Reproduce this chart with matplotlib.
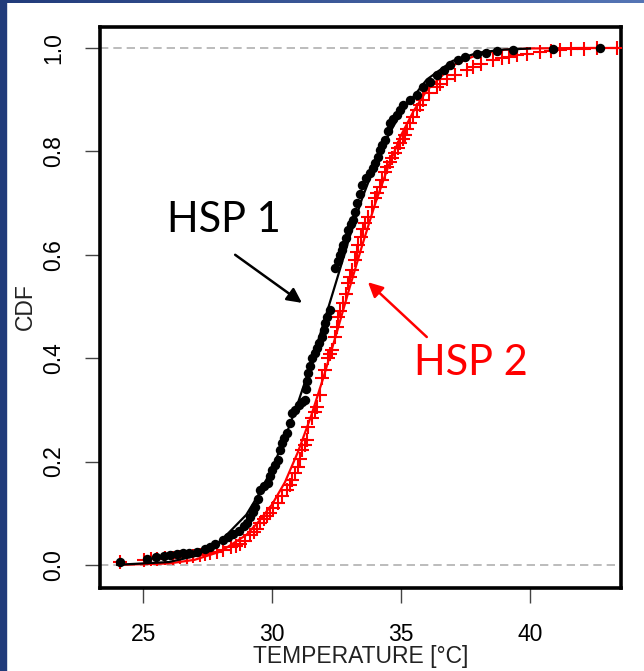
import numpy as np
import matplotlib
matplotlib.use("Agg")
import matplotlib.pyplot as plt
from matplotlib.patches import Rectangle

# HSP 1 empirical CDF points (temperature, cdf)
hsp1_temp = [24.1, 25.15, 25.5, 25.8, 26.05, 26.3, 26.55, 26.8, 27.1, 27.4,
             27.6, 27.8, 28.1, 28.3, 28.5, 28.7, 28.9, 29.03, 29.15, 29.25,
             29.34, 29.45, 29.53, 29.7, 29.84, 29.92, 30.0, 30.1, 30.23, 30.32,
             30.39, 30.48, 30.58, 30.68, 30.78, 30.9, 31.05, 31.15, 31.28, 31.33,
             31.36, 31.4, 31.48, 31.55, 31.65, 31.74, 31.84, 31.94, 32.0, 32.05,
             32.15, 32.25, 32.44, 32.55, 32.64, 32.7, 32.75, 32.85, 32.95, 33.05,
             33.12, 33.22, 33.3, 33.4, 33.49, 33.65, 33.8, 33.9, 33.99, 34.1,
             34.19, 34.28, 34.38, 34.48, 34.57, 34.7, 34.84, 34.95, 35.08, 35.35,
             35.62, 35.85, 36.12, 36.4, 36.65, 36.9, 37.2, 37.5, 37.95, 38.3,
             38.72, 39.34, 40.89, 42.71]
hsp1_cdf = [0.006, 0.011, 0.015, 0.017, 0.019, 0.021, 0.023, 0.024, 0.026, 0.031,
            0.035, 0.040, 0.048, 0.054, 0.060, 0.066, 0.075, 0.081, 0.092, 0.102,
            0.112, 0.128, 0.145, 0.152, 0.159, 0.172, 0.184, 0.194, 0.203, 0.222,
            0.236, 0.245, 0.255, 0.275, 0.294, 0.300, 0.310, 0.315, 0.319, 0.340,
            0.355, 0.371, 0.385, 0.400, 0.410, 0.420, 0.430, 0.441, 0.455, 0.468,
            0.480, 0.493, 0.574, 0.588, 0.600, 0.610, 0.619, 0.632, 0.648, 0.660,
            0.668, 0.683, 0.700, 0.718, 0.735, 0.748, 0.758, 0.768, 0.778, 0.790,
            0.803, 0.812, 0.822, 0.840, 0.855, 0.862, 0.870, 0.880, 0.890, 0.900,
            0.909, 0.925, 0.935, 0.948, 0.958, 0.968, 0.976, 0.982, 0.988, 0.991,
            0.994, 0.997, 0.9985, 1.0]

# HSP 2 empirical CDF points (temperature, cdf)
hsp2_temp = [24.11, 25.04, 25.3, 25.54, 25.85, 26.16, 26.45, 26.7, 26.95, 27.2,
             27.4, 27.6, 27.85, 28.1, 28.4, 28.6, 28.76, 28.95, 29.15, 29.3,
             29.42, 29.53, 29.7, 29.8, 29.92, 30.05, 30.23, 30.4, 30.58, 30.68,
             30.78, 30.9, 31.0, 31.08, 31.16, 31.28, 31.36, 31.4, 31.55, 31.65,
             31.74, 31.86, 31.94, 32.05, 32.17, 32.25, 32.33, 32.44, 32.52, 32.56,
             32.65, 32.75, 32.85, 32.95, 33.03, 33.1, 33.22, 33.28, 33.33, 33.43,
             33.53, 33.62, 33.72, 33.88, 33.99, 34.08, 34.19, 34.28, 34.38, 34.47,
             34.57, 34.67, 34.77, 34.87, 34.96, 35.06, 35.16, 35.25, 35.35, 35.48,
             35.62, 35.73, 35.85, 36.1, 36.4, 36.51, 36.8, 37.1, 37.56, 37.8,
             38.1, 38.57, 38.9, 39.2, 39.5, 39.9, 40.39, 40.8, 41.16, 41.6,
             42.1, 42.6, 43.37]
hsp2_cdf = [0.005, 0.009, 0.011, 0.012, 0.013, 0.014, 0.015, 0.016, 0.017, 0.019,
            0.021, 0.023, 0.026, 0.029, 0.034, 0.037, 0.041, 0.047, 0.058, 0.064,
            0.070, 0.081, 0.088, 0.094, 0.101, 0.110, 0.120, 0.133, 0.145, 0.155,
            0.164, 0.178, 0.190, 0.205, 0.222, 0.232, 0.242, 0.267, 0.285, 0.296,
            0.306, 0.329, 0.362, 0.377, 0.400, 0.408, 0.416, 0.441, 0.460, 0.480,
            0.492, 0.507, 0.525, 0.545, 0.558, 0.571, 0.590, 0.605, 0.619, 0.635,
            0.650, 0.662, 0.673, 0.692, 0.710, 0.720, 0.731, 0.745, 0.760, 0.770,
            0.779, 0.788, 0.797, 0.806, 0.816, 0.824, 0.832, 0.843, 0.855, 0.867,
            0.880, 0.890, 0.899, 0.912, 0.925, 0.930, 0.940, 0.948, 0.957, 0.963,
            0.970, 0.977, 0.980, 0.983, 0.986, 0.989, 0.992, 0.995, 0.997, 0.998,
            0.999, 0.9995, 1.0]

# fitted curves
fit1_temp = [24, 26, 27, 28, 29, 29.5, 30, 30.5, 31, 31.5, 32, 32.5, 33,
             33.5, 34, 34.5, 35, 36, 37, 38, 39, 40]
fit1_cdf = [0.0004, 0.0057, 0.017, 0.046, 0.097, 0.138, 0.186, 0.246, 0.313,
            0.387, 0.468, 0.550, 0.633, 0.710, 0.775, 0.830, 0.875, 0.939,
            0.975, 0.991, 0.997, 0.999]
fit2_temp = [24, 26, 27, 28, 29, 29.5, 30, 30.5, 31, 31.5, 32, 32.5, 33,
             33.5, 34, 34.5, 35, 35.5, 36, 37, 38, 39, 40, 42, 43.4]
fit2_cdf = [0.0002, 0.003, 0.010, 0.026, 0.058, 0.085, 0.117, 0.160, 0.218,
            0.286, 0.364, 0.448, 0.535, 0.619, 0.699, 0.770, 0.831, 0.879,
            0.918, 0.966, 0.988, 0.9965, 0.9991, 1.0, 1.0]

x_ticks = [25, 30, 35, 40]
y_ticks = [0.0, 0.2, 0.4, 0.6, 0.8, 1.0]

plt.rcParams['font.family'] = ['Liberation Sans', 'DejaVu Sans']

fig = plt.figure(figsize=(6.44, 6.71), dpi=100)
fig.patch.set_facecolor('white')

# slide background strips
fig.patches.append(Rectangle((0, 0), 6 / 644, 1, transform=fig.transFigure,
                             color='#213b7a', zorder=0))
grad = fig.add_axes([0, 1 - 3 / 671, 1, 3 / 671])
grad.imshow(np.linspace(0, 1, 256)[None, :], aspect='auto',
            cmap=matplotlib.colors.LinearSegmentedColormap.from_list('bg', ['#213b7a', '#5575b5']))
grad.axis('off')

ax = fig.add_axes([100 / 644, 1 - 588 / 671, 521 / 644, 561 / 671])

ax.axhline(0, color='#b0b0b0', lw=1.2, ls=(0, (5, 3)), zorder=1)
ax.axhline(1, color='#b0b0b0', lw=1.2, ls=(0, (5, 3)), zorder=1)

ax.plot(fit2_temp, fit2_cdf, color='red', lw=1.6, zorder=2)
ax.plot(hsp2_temp, hsp2_cdf, ls='none', marker='+', ms=10, mew=1.5,
        color='red', zorder=3)
ax.plot(fit1_temp, fit1_cdf, color='black', lw=1.6, zorder=4)
ax.plot(hsp1_temp, hsp1_cdf, ls='none', marker='o', ms=6.8, mew=0,
        color='black', zorder=5)

ax.set_xlim(23.33, 43.53)
ax.set_ylim(-0.0445, 1.0406)
ax.set_xticks(x_ticks)
ax.set_yticks(y_ticks)
ax.set_xticklabels([str(t) for t in x_ticks], fontsize=16.5)
ax.set_yticklabels(['%.1f' % t for t in y_ticks], fontsize=16.5,
                   rotation=90, va='center')
ax.tick_params(length=11, width=1, color='#444444', pad=14)

for s in ax.spines.values():
    s.set_linewidth(2.6)

fig.text(361 / 644, 1 - 657 / 671, 'TEMPERATURE [°C]', fontsize=16.5,
         ha='center', va='center', color='#222222')
fig.text(25 / 644, 1 - 307 / 671, 'CDF', fontsize=16.5, rotation=90,
         ha='center', va='center', color='#222222')

ax.annotate('', xy=(31.16, 0.507), xytext=(28.57, 0.600),
            arrowprops=dict(arrowstyle='-|>', color='black', lw=1.8,
                            mutation_scale=22, shrinkA=0, shrinkB=0))
ax.text(28.14, 0.667, 'HSP 1', fontsize=30, family='Lato', color='black',
        ha='center', va='center')
ax.annotate('', xy=(33.72, 0.547), xytext=(36.0, 0.441),
            arrowprops=dict(arrowstyle='-|>', color='red', lw=1.8,
                            mutation_scale=22, shrinkA=0, shrinkB=0))
ax.text(37.71, 0.391, 'HSP 2', fontsize=30, family='Lato', color='red',
        ha='center', va='center')

fig.savefig('out.png', dpi=100)
